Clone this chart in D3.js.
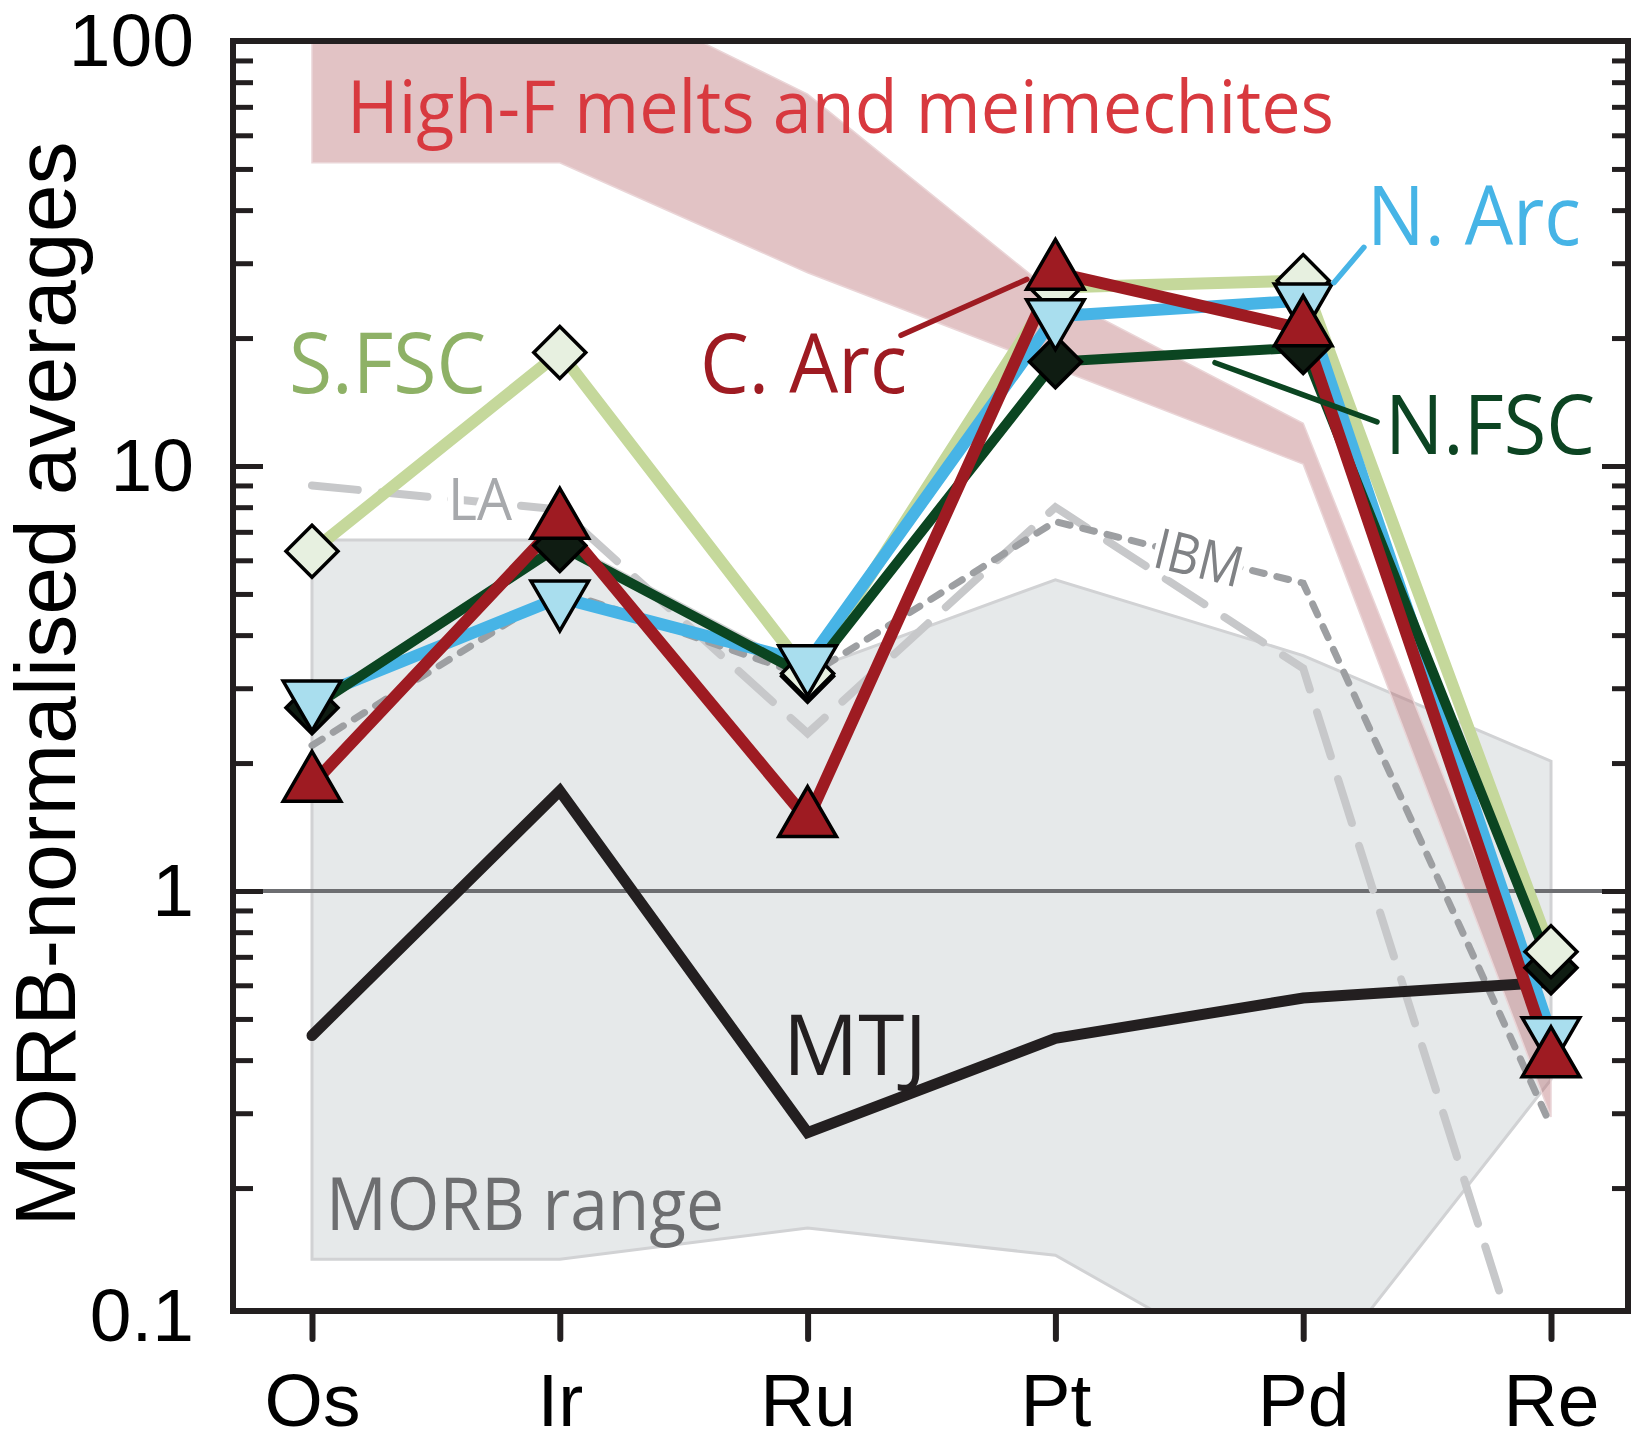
<!DOCTYPE html>
<html>
<head>
<meta charset="utf-8">
<script src="https://cdn.jsdelivr.net/npm/d3@7"></script>
<style>
  body { margin: 0; background: #fff; }
  svg { display: block; }
  .lab { font-family: "Open Sans", "Noto Sans", sans-serif; }
  .axis text { font-family: "Liberation Sans", Arial, Helvetica, sans-serif; fill: #000; }
</style>
</head>
<body>
<svg id="chart"></svg>
<script>
// elements along the x axis
var elements = ["Os", "Ir", "Ru", "Pt", "Pd", "Re"];

// MORB-normalised averages, one value per element
var sFSC = [6.3, 18.5, 3.25, 26.3, 27.3, 0.72];
var nFSC = [2.7, 6.5, 3.2, 17.6, 19.0, 0.66];
var nArc = [2.85, 4.9, 3.45, 22.5, 24.5, 0.46];
var cArc = [1.78, 7.4, 1.47, 28.5, 21.0, 0.40];
var mtj  = [0.457, 1.72, 0.27, 0.45, 0.56, 0.61];
var la   = [9.0, 7.9, 2.35, 8.0, 3.34, 0.047];
var ibm  = [2.2, 5.1, 3.2, 7.4, 5.3, 0.28];

// shaded ranges (upper / lower bounds)
var morbHi  = [6.7, 6.7, 3.3, 5.4, 3.58, 2.02];
var morbLo  = [0.136, 0.136, 0.161, 0.139, 0.065, 0.36];
var highFHi = [145, 145, 75, 25.3, 12.6, 0.43];
var highFLo = [51.7, 51.7, 28.5, 17.0, 10.1, 0.294];

var tickLabels = [0.1, 1, 10, 100];
var majorTicks = [1, 10];
var minorTicks = [0.2, 0.3, 0.4, 0.5, 0.6, 0.7, 0.8, 0.9,
                  2, 3, 4, 5, 6, 7, 8, 9,
                  20, 30, 40, 50, 60, 70, 80, 90];

var width = 1632, height = 1435;
var frame = { left: 233, right: 1628, top: 41, bottom: 1311 };
var ink = "#231f20";

var svg = d3.select("#chart")
  .attr("width", width)
  .attr("height", height);

var x = d3.scalePoint().domain(elements).range([312, 1551]);
var xi = d3.scaleLinear().domain([0, elements.length - 1]).range([312, 1551]);
var y = d3.scaleLog().domain([0.1, 100]).range([1316, 41]);

svg.append("clipPath").attr("id", "plot")
  .append("rect")
  .attr("x", frame.left).attr("y", frame.top)
  .attr("width", frame.right - frame.left)
  .attr("height", frame.bottom - frame.top);

var plot = svg.append("g").attr("clip-path", "url(#plot)");

var band = function(hi, lo) {
  return d3.area()
    .x(function(d, i) { return x(elements[i]); })
    .y0(function(d, i) { return y(lo[i]); })
    .y1(function(d, i) { return y(hi[i]); })(hi);
};

// MORB range
plot.append("path")
  .attr("d", band(morbHi, morbLo))
  .attr("fill", "#e6e9ea")
  .attr("stroke", "#d1d2d4")
  .attr("stroke-width", 3);

// High-F melts band
plot.append("path")
  .attr("d", band(highFHi, highFLo))
  .attr("fill", "#b6696e")
  .attr("fill-opacity", 0.4)
  .attr("stroke", "#ead5d7")
  .attr("stroke-width", 1.5);

// normalisation line at 1
plot.append("line")
  .attr("x1", frame.left).attr("x2", frame.right)
  .attr("y1", y(1)).attr("y2", y(1))
  .attr("stroke", "#6d6e71")
  .attr("stroke-width", 4);

var line = d3.line()
  .x(function(d, i) { return x(elements[i]); })
  .y(function(d) { return y(d); });

// LA and IBM reference lines
plot.append("path").attr("d", line(la))
  .attr("fill", "none").attr("stroke", "#c7c8ca")
  .attr("stroke-width", 8).attr("stroke-linecap", "round")
  .attr("stroke-dasharray", "46 24");

plot.append("path").attr("d", line(ibm))
  .attr("fill", "none").attr("stroke", "#9d9fa2")
  .attr("stroke-width", 7).attr("stroke-linecap", "round")
  .attr("stroke-dasharray", "12 13");

var halo = function(sel) {
  sel.attr("stroke", "#fff").attr("stroke-width", 12)
    .attr("stroke-linejoin", "round").style("paint-order", "stroke");
};

svg.append("text").attr("class", "lab")
  .attr("x", 448).attr("y", 520)
  .attr("font-size", 58).attr("fill", "#a7a9ac")
  .attr("textLength", 64).attr("lengthAdjust", "spacingAndGlyphs")
  .text("LA").call(halo);

var ibmPos = 0.58;
var ix0 = x("Pt"), iy0 = y(ibm[3]), ix1 = x("Pd"), iy1 = y(ibm[4]);
var ibmAngle = Math.atan2(iy1 - iy0, ix1 - ix0) * 180 / Math.PI;
svg.append("text").attr("class", "lab")
  .attr("transform", "translate(" + (ix0 + ibmPos * (ix1 - ix0)) + "," +
        (iy0 + ibmPos * (iy1 - iy0)) + ") rotate(" + ibmAngle + ")")
  .attr("text-anchor", "middle").attr("dy", "0.36em")
  .attr("font-size", 56).attr("fill", "#808285")
  .attr("textLength", 89).attr("lengthAdjust", "spacingAndGlyphs")
  .text("IBM").call(halo);

// MTJ
plot.append("path").attr("d", line(mtj))
  .attr("fill", "none").attr("stroke", ink)
  .attr("stroke-width", 11).attr("stroke-linecap", "round")
  .attr("stroke-linejoin", "miter");

// series lines
var series = [
  { name: "S.FSC", values: sFSC, line: "#c5d89b", width: 12 },
  { name: "N.Arc", values: nArc, line: "#47b4e6", width: 12 },
  { name: "N.FSC", values: nFSC, line: "#0b4521", width: 10 },
  { name: "C.Arc", values: cArc, line: "#9e1b22", width: 12 }
];

plot.selectAll(".series")
  .data(series)
  .enter().append("path")
  .attr("class", "series")
  .attr("d", function(d) { return line(d.values); })
  .attr("fill", "none")
  .attr("stroke", function(d) { return d.line; })
  .attr("stroke-width", function(d) { return d.width; })
  .attr("stroke-linejoin", "round");

// markers (drawn bottom to top)
var markers = [
  { values: nFSC, shape: d3.symbolSquare, size: 1352, rot: 45, fill: "#0f1c12" },
  { values: sFSC, shape: d3.symbolSquare, size: 1352, rot: 45, fill: "#e7f0e0" },
  { values: nArc, shape: d3.symbolTriangle, size: 1440, rot: 180, fill: "#a9deee" },
  { values: cArc, shape: d3.symbolTriangle, size: 1440, rot: 0, fill: "#9e1b22" }
];

markers.forEach(function(m) {
  svg.append("g").selectAll("path")
    .data(m.values)
    .enter().append("path")
    .attr("d", d3.symbol().type(m.shape).size(m.size))
    .attr("transform", function(d, i) {
      return "translate(" + x(elements[i]) + "," + y(d) + ") rotate(" + m.rot + ")";
    })
    .attr("fill", m.fill)
    .attr("stroke", "#000")
    .attr("stroke-width", 3.5)
    .attr("stroke-linejoin", "miter");
});

// leader lines, in (element index, value) coordinates
var leaders = [
  { from: [2.377, 20.3], to: [2.885, 27.5], color: "#9e1b22" },
  { from: [4.124, 27.0], to: [4.245, 32.7], color: "#47b4e6" },
  { from: [3.644, 17.5], to: [4.298, 12.7], color: "#0b4521" }
];

svg.selectAll(".leader")
  .data(leaders)
  .enter().append("line")
  .attr("class", "leader")
  .attr("x1", function(d) { return xi(d.from[0]); })
  .attr("y1", function(d) { return y(d.from[1]); })
  .attr("x2", function(d) { return xi(d.to[0]); })
  .attr("y2", function(d) { return y(d.to[1]); })
  .attr("stroke", function(d) { return d.color; })
  .attr("stroke-width", 5.5)
  .attr("stroke-linecap", "round");

// text labels
var labels = [
  { text: "High-F melts and meimechites", x: 347, y: 133, size: 74, len: 987, color: "#d8393f" },
  { text: "S.FSC", x: 289, y: 393, size: 84, len: 197, color: "#8eb166" },
  { text: "C. Arc", x: 700, y: 393, size: 82, len: 207, color: "#9e1b22" },
  { text: "N. Arc", x: 1367, y: 245, size: 82, len: 214, color: "#46b4e6" },
  { text: "N.FSC", x: 1385, y: 454, size: 83, len: 210, color: "#0c4422" },
  { text: "MTJ", x: 783, y: 1075, size: 84, len: 144, color: ink },
  { text: "MORB range", x: 326, y: 1230, size: 73, len: 398, color: "#6d6e70" }
];

svg.selectAll(".tag")
  .data(labels)
  .enter().append("text")
  .attr("class", "tag lab")
  .attr("x", function(d) { return d.x; })
  .attr("y", function(d) { return d.y; })
  .attr("font-size", function(d) { return d.size; })
  .attr("fill", function(d) { return d.color; })
  .attr("textLength", function(d) { return d.len; })
  .attr("lengthAdjust", "spacingAndGlyphs")
  .text(function(d) { return d.text; });

// axes
var styleTicks = function(g, w) {
  g.select(".domain").remove();
  g.selectAll(".tick line").attr("stroke", ink).attr("stroke-width", w);
};

svg.append("g").attr("class", "axis")
  .attr("transform", "translate(" + frame.left + ",0)")
  .call(d3.axisLeft(y).tickValues(minorTicks).tickSize(-20).tickFormat(""))
  .call(styleTicks, 5);

svg.append("g").attr("class", "axis")
  .attr("transform", "translate(" + frame.left + ",0)")
  .call(d3.axisLeft(y).tickValues(majorTicks).tickSize(-30).tickFormat(""))
  .call(styleTicks, 5);

svg.append("g").attr("class", "axis")
  .attr("transform", "translate(" + frame.left + ",0)")
  .call(d3.axisLeft(y).tickValues(tickLabels).tickSize(0).tickPadding(39)
        .tickFormat(function(d) { return d < 1 ? "0.1" : String(d); }))
  .call(styleTicks, 0)
  .call(function(g) {
    g.selectAll(".tick line").remove();
    g.selectAll("text").attr("font-size", 75).attr("dy", "0.33em");
  });

svg.append("g").attr("class", "axis")
  .attr("transform", "translate(" + frame.right + ",0)")
  .call(d3.axisRight(y).tickValues(minorTicks).tickSize(-16).tickFormat(""))
  .call(styleTicks, 5);

svg.append("g").attr("class", "axis")
  .attr("transform", "translate(" + frame.right + ",0)")
  .call(d3.axisRight(y).tickValues(majorTicks).tickSize(-26).tickFormat(""))
  .call(styleTicks, 5);

svg.append("g").attr("class", "axis")
  .attr("transform", "translate(0," + frame.bottom + ")")
  .call(d3.axisBottom(x).tickSize(28).tickPadding(34))
  .call(styleTicks, 6)
  .call(function(g) {
    g.selectAll(".tick line").attr("stroke-linecap", "round");
    g.selectAll("text").attr("font-size", 75);
  });

// frame
svg.append("rect")
  .attr("x", frame.left).attr("y", frame.top)
  .attr("width", frame.right - frame.left)
  .attr("height", frame.bottom - frame.top)
  .attr("fill", "none")
  .attr("stroke", ink)
  .attr("stroke-width", 6);

// y axis title
svg.append("text")
  .attr("transform", "translate(75,684) rotate(-90)")
  .attr("text-anchor", "middle")
  .style("font-family", "'Liberation Sans', Arial, Helvetica, sans-serif")
  .attr("font-size", 86)
  .attr("fill", "#000")
  .text("MORB-normalised averages");
</script>
</body>
</html>
